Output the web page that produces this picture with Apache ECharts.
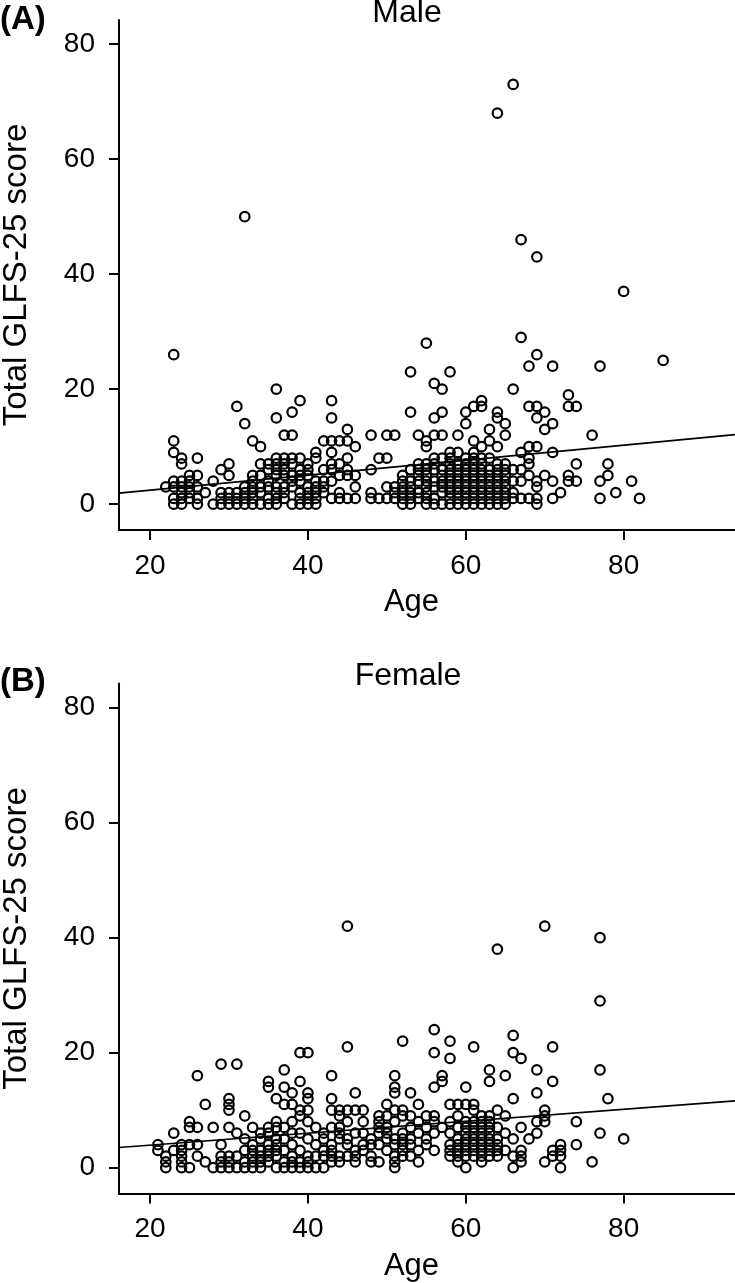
<!DOCTYPE html>
<html>
<head>
<meta charset="utf-8">
<script src="https://cdn.jsdelivr.net/npm/echarts@6/dist/echarts.min.js"></script>
<style>
html,body{margin:0;padding:0;background:#fff;}
#chart{width:735px;height:1283px;}
</style>
</head>
<body>
<div id="chart"></div>
<script>
// ---- Data ----
const panelTitles = ['Male', 'Female'];
const panelTags = ['(A)', '(B)'];
const xAxisTitle = 'Age';
const yAxisTitle = 'Total GLFS-25 score';
const xTicks = [20, 40, 60, 80];
const yTicks = [0, 20, 40, 60, 80];

const maleAges = [22,23,24,25,26,27,28,29,30,31,32,33,34,35,36,37,38,39,40,41,42,43,44,45,46,48,49,50,51,52,53,54,55,56,57,58,59,60,61,62,63,64,65,66,67,68,69,70,71,72,73,74,76,77,78,79,80,81,82,85];
const maleScores = [
  [3],
  [26,11,9,4,3,1,0],
  [8,7,4,3,2,1,0],
  [5,4,3,2,1],
  [8,5,3,1,0],
  [2],
  [4,0],
  [6,2,1,0],
  [7,5,2,1,0],
  [17,2,1,0],
  [50,14,3,2,1,0],
  [11,5,4,3,2,1,0],
  [10,7,5,3,2,0],
  [7,6,4,3,1,0],
  [20,15,8,7,6,5,3,2,1,0],
  [12,8,7,6,5,3,2,1],
  [16,12,8,7,5,4,3,0],
  [18,8,6,5,4,2,1,0],
  [7,6,5,3,2,1,0],
  [9,8,4,3,2,1,0],
  [11,6,4,3,2],
  [18,15,11,9,7,6,4,1],
  [11,7,5,2,1],
  [13,11,8,6,5,1],
  [10,5,3,1],
  [12,6,2,1],
  [8,1],
  [12,8,3,1],
  [12,3,2,1],
  [5,4,3,2,1,0],
  [23,16,6,4,3,2,1,0],
  [12,7,6,5,4,2,1],
  [28,11,10,7,6,5,4,3,2,1,0],
  [21,15,12,8,7,6,4,3,1,0],
  [20,16,12,8,6,5,4,3,2,0],
  [23,9,8,7,6,5,4,3,2,1,0],
  [12,9,7,6,5,4,3,2,1,0],
  [16,14,8,7,6,5,4,3,2,1,0],
  [17,11,9,8,7,6,5,4,3,2,1,0],
  [18,17,10,8,7,6,5,4,3,2,1,0],
  [13,11,8,6,5,4,3,2,1,0],
  [68,16,15,10,7,6,5,4,3,2,1,0],
  [14,12,7,6,5,4,3,2,1,0],
  [73,20,6,4,2,1],
  [46,29,9,6,4,1],
  [24,17,10,8,7,5,1],
  [43,26,17,15,10,4,3,1,0],
  [16,13,5],
  [24,14,9,4,1],
  [2],
  [19,17,5,4],
  [17,7,4],
  [12],
  [24,4,1],
  [7,5],
  [2],
  [37],
  [4],
  [1],
  [25]
];

const femaleAges = [21,22,23,24,25,26,27,28,29,30,31,32,33,34,35,36,37,38,39,40,41,42,43,44,45,46,47,48,49,50,51,52,53,54,55,56,57,58,59,60,61,62,63,64,65,66,67,68,69,70,71,72,74,76,77,78,80];
const femaleScores = [
  [4,3],
  [2,1,0],
  [6,3],
  [4,3,2,1,0],
  [8,7,4,0],
  [16,7,4,2],
  [11,1],
  [7,0],
  [18,4,2,1,0],
  [12,11,10,7,2,1,0],
  [18,6,2,0],
  [9,5,3,1,0],
  [7,4,3,2,1,0],
  [6,5,3,2,1,0],
  [15,14,7,6,4,3,2,1],
  [12,8,7,5,4,3,2,0],
  [17,14,11,7,5,3,1,0],
  [13,11,8,6,4,2,1,0],
  [20,15,10,9,6,3,1,0],
  [20,13,12,10,8,5,2,1,0],
  [7,4,2,0],
  [6,5,3,2,0],
  [16,12,10,7,4,3,2,1],
  [10,9,7,6,5,2,1],
  [42,21,10,8,5,4,2],
  [13,10,6,3,2,1],
  [10,8,6,4,3],
  [5,4,2,1],
  [9,8,7,6,4,1],
  [11,9,7,6,5,3],
  [16,14,13,10,8,5,4,2,1,0],
  [22,10,9,6,5,4,3,2],
  [13,9,7,5,4,2],
  [11,8,6,3,1],
  [9,7,5,4],
  [24,20,14,9,8,6,3],
  [16,15,7],
  [22,19,11,8,6,4,3,2],
  [11,9,7,5,4,3,2,1],
  [14,11,8,7,6,5,4,3,2,0],
  [21,11,10,8,7,6,5,4,3,2],
  [9,8,7,6,5,4,3,2,1],
  [17,15,9,8,7,6,5,4,3,2],
  [38,10,7,5,4,3,2],
  [16,9,6,3],
  [23,20,12,5,2,0],
  [19,7,3,2,1],
  [5],
  [17,13,8,6],
  [42,10,9,8,1],
  [21,15,3,2],
  [4,3,2,0],
  [8,4],
  [1],
  [40,29,17,6],
  [12],
  [5]
];

// Fitted regression lines (age, score) at the plot edges
const maleFit = [[16.07, 1.9], [94.1, 12.1]];
const femaleFit = [[16.07, 3.5], [94.1, 11.6]];

// ---- Build ----
function flatten(ages, groups) {
  const out = [];
  ages.forEach((a, i) => groups[i].forEach(s => out.push([a, s])));
  return out;
}
const malePoints = flatten(maleAges, maleScores);
const femalePoints = flatten(femaleAges, femaleScores);

const FONT = '"Liberation Sans", Arial, Helvetica, sans-serif';
const X_MIN = 16.07, X_MAX = 94.1, Y_MIN = -4.5, Y_MAX = 84.2;

const grids = [
  {left: 119, right: 0, top: 20, height: 510, containLabel: false, outerBoundsMode: 'none'},
  {left: 119, right: 0, top: 683.5, height: 510, containLabel: false, outerBoundsMode: 'none'}
];

function xAxis(i) {
  return {
    gridIndex: i, type: 'value', min: X_MIN, max: X_MAX,
    name: xAxisTitle, nameLocation: 'middle', nameGap: 57,
    nameTextStyle: {fontFamily: FONT, fontSize: 31, color: '#000', padding: [0, 31, 0, 0]},
    axisLine: {show: true, onZero: false, lineStyle: {color: '#000', width: 2}},
    axisTick: {show: true, length: 10, lineStyle: {color: '#000', width: 2}, customValues: xTicks},
    axisLabel: {fontFamily: FONT, fontSize: 28, color: '#000', margin: 22, customValues: xTicks},
    splitLine: {show: false}
  };
}
function yAxis(i) {
  return {
    gridIndex: i, type: 'value', min: Y_MIN, max: Y_MAX,
    name: yAxisTitle, nameLocation: 'middle', nameGap: 86, nameRotate: 90,
    nameTextStyle: {fontFamily: FONT, fontSize: 33, color: '#000'},
    axisLine: {show: true, onZero: false, lineStyle: {color: '#000', width: 2}},
    axisTick: {show: true, length: 10, lineStyle: {color: '#000', width: 2}, customValues: yTicks},
    axisLabel: {fontFamily: FONT, fontSize: 28, color: '#000', margin: 24, customValues: yTicks},
    splitLine: {show: false}
  };
}

function scatter(i, pts) {
  return {
    type: 'scatter', xAxisIndex: i, yAxisIndex: i, data: pts,
    symbol: 'circle', symbolSize: 9.5,
    itemStyle: {color: 'rgba(0,0,0,0)', borderColor: '#000', borderWidth: 2.2, opacity: 1},
    silent: true, z: 3
  };
}
function fitLine(i, pts) {
  return {
    type: 'line', xAxisIndex: i, yAxisIndex: i, data: pts,
    symbol: 'none', lineStyle: {color: '#000', width: 1.7}, silent: true, z: 2
  };
}

const option = {
  animation: false,
  backgroundColor: '#fff',
  grid: grids,
  xAxis: [xAxis(0), xAxis(1)],
  yAxis: [yAxis(0), yAxis(1)],
  series: [scatter(0, malePoints), fitLine(0, maleFit), scatter(1, femalePoints), fitLine(1, femaleFit)],
  graphic: [
    {type: 'text', left: 0, top: 3, style: {text: panelTags[0], font: 'bold 33px ' + FONT, fill: '#000'}},
    {type: 'text', left: 0, top: 665, style: {text: panelTags[1], font: 'bold 33px ' + FONT, fill: '#000'}},
    {type: 'text', x: 407, y: 13, style: {text: panelTitles[0], font: '32px ' + FONT, fill: '#000', textAlign: 'center', textVerticalAlign: 'middle'}},
    {type: 'text', x: 408, y: 676, style: {text: panelTitles[1], font: '32px ' + FONT, fill: '#000', textAlign: 'center', textVerticalAlign: 'middle'}}
  ]
};

const chart = echarts.init(document.getElementById('chart'), null, {renderer: 'canvas'});
chart.setOption(option);
</script>
</body>
</html>
